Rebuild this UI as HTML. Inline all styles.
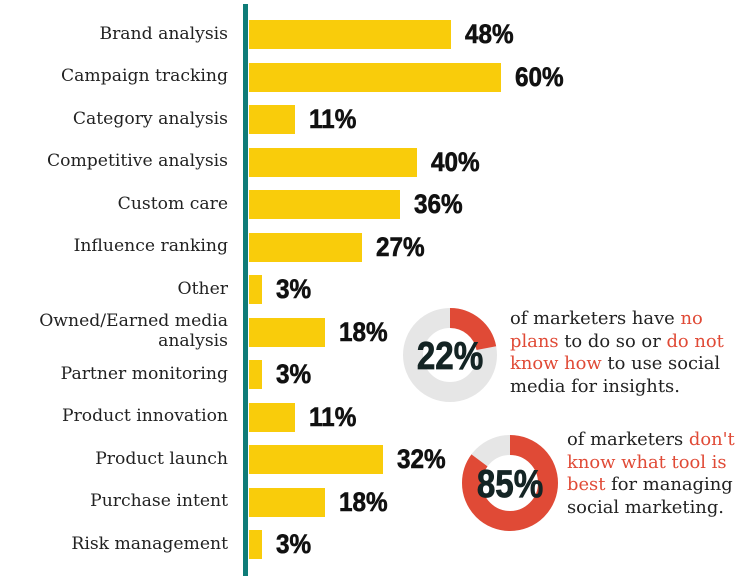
<!DOCTYPE html>
<html><head><meta charset="utf-8"><style>
body{margin:0;width:753px;height:587px;background:#fff;position:relative;overflow:hidden;font-family:"DejaVu Serif","Liberation Serif",serif}
.lab{position:absolute;right:525px;font-size:17.2px;color:#222;text-align:right;line-height:20px;white-space:nowrap}
.bar{position:absolute;left:249px;height:29px;background:#f9cc0b}
.val{position:absolute;font-family:"Liberation Sans Narrow","Liberation Sans",sans-serif;font-weight:bold;font-size:27px;color:#111;transform:scaleX(0.9);transform-origin:left center;line-height:29px;-webkit-text-stroke:0.6px #111}
.txt{position:absolute;font-size:17.9px;line-height:22.5px;color:#222}
.r{color:#e04a36}
</style></head><body>
<div style="position:absolute;left:243px;top:4px;width:5px;height:572px;background:#0f7c78"></div>
<div id="c"></div>
<svg style="position:absolute;left:0;top:0" width="753" height="587">
<circle cx="450" cy="355" r="37" fill="none" stroke="#e6e6e6" stroke-width="20"/>
<circle cx="450" cy="355" r="37" fill="none" stroke="#e04a36" stroke-width="20" stroke-dasharray="51.1 300" transform="rotate(-90 450 355)"/>
<circle cx="510" cy="483" r="38" fill="none" stroke="#e6e6e6" stroke-width="20"/>
<circle cx="510" cy="483" r="38" fill="none" stroke="#e04a36" stroke-width="20" stroke-dasharray="203 300" transform="rotate(-90 510 483)"/>
<text x="450" y="369" text-anchor="middle" font-family="Liberation Sans Narrow, Liberation Sans, sans-serif" font-weight="bold" font-size="39" fill="#142424" stroke="#142424" stroke-width="0.8" transform="translate(450 0) scale(0.85 1) translate(-450 0)">22%</text>
<text x="510" y="497" text-anchor="middle" font-family="Liberation Sans Narrow, Liberation Sans, sans-serif" font-weight="bold" font-size="39" fill="#142424" stroke="#142424" stroke-width="0.8" transform="translate(510 0) scale(0.85 1) translate(-510 0)">85%</text>
</svg>
<div class="txt" style="left:510px;top:308px">of marketers have <span class="r">no<br>plans</span> to do so or <span class="r">do not<br>know how</span> to use social<br>media for insights.</div>
<div class="txt" style="left:567px;top:429px">of marketers <span class="r">don't<br>know what tool is<br>best</span> for managing<br>social marketing.</div>
<script>
var d=[["Brand analysis",48],["Campaign tracking",60],["Category analysis",11],["Competitive analysis",40],["Custom care",36],["Influence ranking",27],["Other",3],["Owned/Earned media<br>analysis",18],["Partner monitoring",3],["Product innovation",11],["Product launch",32],["Purchase intent",18],["Risk management",3]];
var h="";
d.forEach(function(e,i){var cy=34.5+i*42.5;var w=e[1]*4.2;
var two=e[0].indexOf("<br>")>0;
h+='<div class="lab" style="top:'+(cy-(two?21:11))+'px">'+e[0]+'</div>';
h+='<div class="bar" style="top:'+(cy-14.5)+'px;width:'+w+'px"></div>';
h+='<div class="val" style="top:'+(cy-14.5)+'px;left:'+(249+w+14)+'px">'+e[1]+'%</div>';});
document.getElementById("c").innerHTML=h;
</script>
</body></html>
